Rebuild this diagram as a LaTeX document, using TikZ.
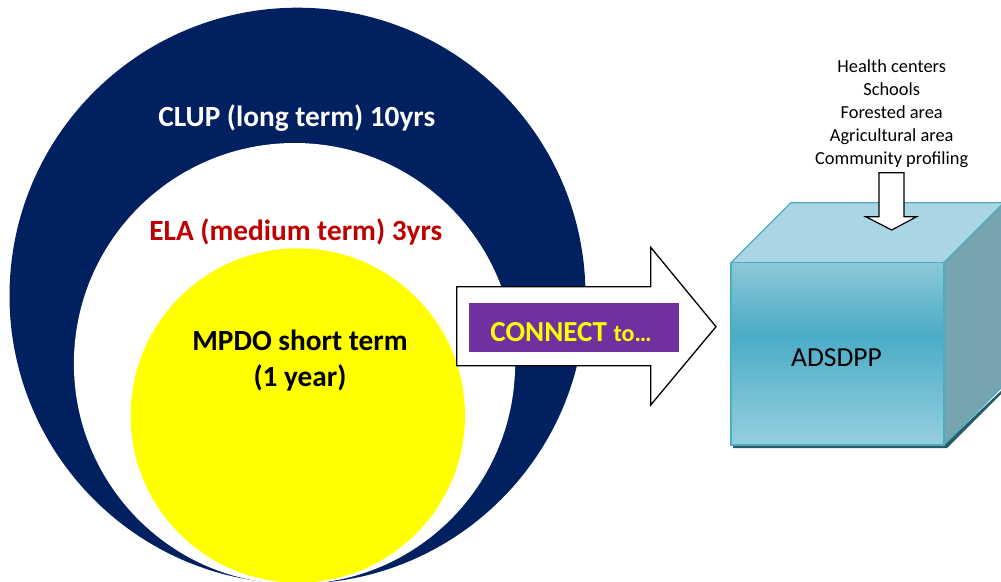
\documentclass[tikz,border=0pt]{standalone}
\usepackage{fontspec}
\setmainfont{Carlito}
\definecolor{navy}{HTML}{002060}
\definecolor{darkred}{HTML}{C00000}
\definecolor{vivid}{HTML}{FFFF00}
\definecolor{plum}{HTML}{7030A0}
\definecolor{cubeedge}{HTML}{4BACC6}
\definecolor{cubetop}{HTML}{A9D6E2}
\definecolor{cubeside}{HTML}{76A5AF}
\definecolor{cubeshadow}{HTML}{2A5A66}
\definecolor{frontlight}{HTML}{8CC8D8}
\definecolor{frontmid}{HTML}{4BACC6}
\definecolor{frontlow}{HTML}{96CFDF}
% front face of the cube: darkest a little above the middle
\pgfdeclareverticalshading{frontface}{100bp}{color(0bp)=(frontlow); color(25bp)=(frontlow);
  color(55bp)=(frontmid); color(75bp)=(frontlight); color(100bp)=(frontlight)}
\tikzset{
  label/.style={inner sep=0pt, anchor=base, font=\bfseries\fontsize{29.3}{35}\selectfont},
  blockarrow/.style={draw=black, line width=1.3pt, fill=white, line join=miter},
}
\begin{document}
\begin{tikzpicture}[x=1pt,y=-1pt]
\useasboundingbox (0,0) rectangle (1001,581);

% nested planning horizons
\fill[navy] (297.5,295.7) circle [radius=288];
\fill[white] (294.5,363.6) circle [radius=220.6];
\fill[vivid] (297.8,415.5) circle [radius=167.2];

\node[label, text=white] (clup) at (296.8,126.7) {CLUP (long term) 10yrs};
\node[label, text=darkred] (ela) at (295.8,240) {ELA (medium term) 3yrs};
\node[label, text=black] (mpdo) at (300,350.7) {MPDO short term};
\node[label, text=black] (year) at (300,386.7) {(1 year)};

% connecting block arrow
\draw[blockarrow] (456.7,286.7) -- (650.7,286.7) -- (650.7,247.3) -- (716,326.7)
  -- (650.7,405) -- (650.7,365.7) -- (456.7,365.7) -- cycle;
\fill[plum] (469.3,302.7) rectangle (679,351.7);
\node[inner sep=0pt, anchor=base, text=vivid, font=\bfseries] (connect) at (571,341)
  {\fontsize{29}{34}\selectfont CONNECT \fontsize{24}{30}\selectfont to…};

% cube
\fill[cubeshadow] (733,448) -- (947,448) -- (1004,391) -- (1004,388) -- (944,445) -- (733,445) -- cycle;
\fill[cubetop, draw=cubeedge, line width=1.2pt] (731,262.7) -- (791,202.7) -- (1004,202.7) -- (944,262.7) -- cycle;
\fill[cubeside, draw=cubeedge, line width=1.2pt] (944,262.7) -- (1004,202.7) -- (1004,385) -- (944,445) -- cycle;
\shade[shading=frontface] (731,262.7) rectangle (944,445);
\draw[cubeedge, line width=1.2pt] (731,262.7) rectangle (944,445);
\node[inner sep=0pt, anchor=base, font=\fontsize{27.5}{33}\selectfont] (adsdpp) at (836.5,366.7) {ADSDPP};

% inputs feeding the cube
\node[inner sep=0pt, anchor=north, align=center, font=\fontsize{18.4}{22.9}\selectfont] (inputs) at (891.7,59.5)
  {Health centers\\Schools\\Forested area\\Agricultural area\\Community profiling};
\draw[blockarrow, line width=1.2pt] (879,172.7) -- (904,172.7) -- (904,216.7) -- (916.7,216.7)
  -- (891.7,230) -- (865.7,216.7) -- (879,216.7) -- cycle;
\end{tikzpicture}
\end{document}
